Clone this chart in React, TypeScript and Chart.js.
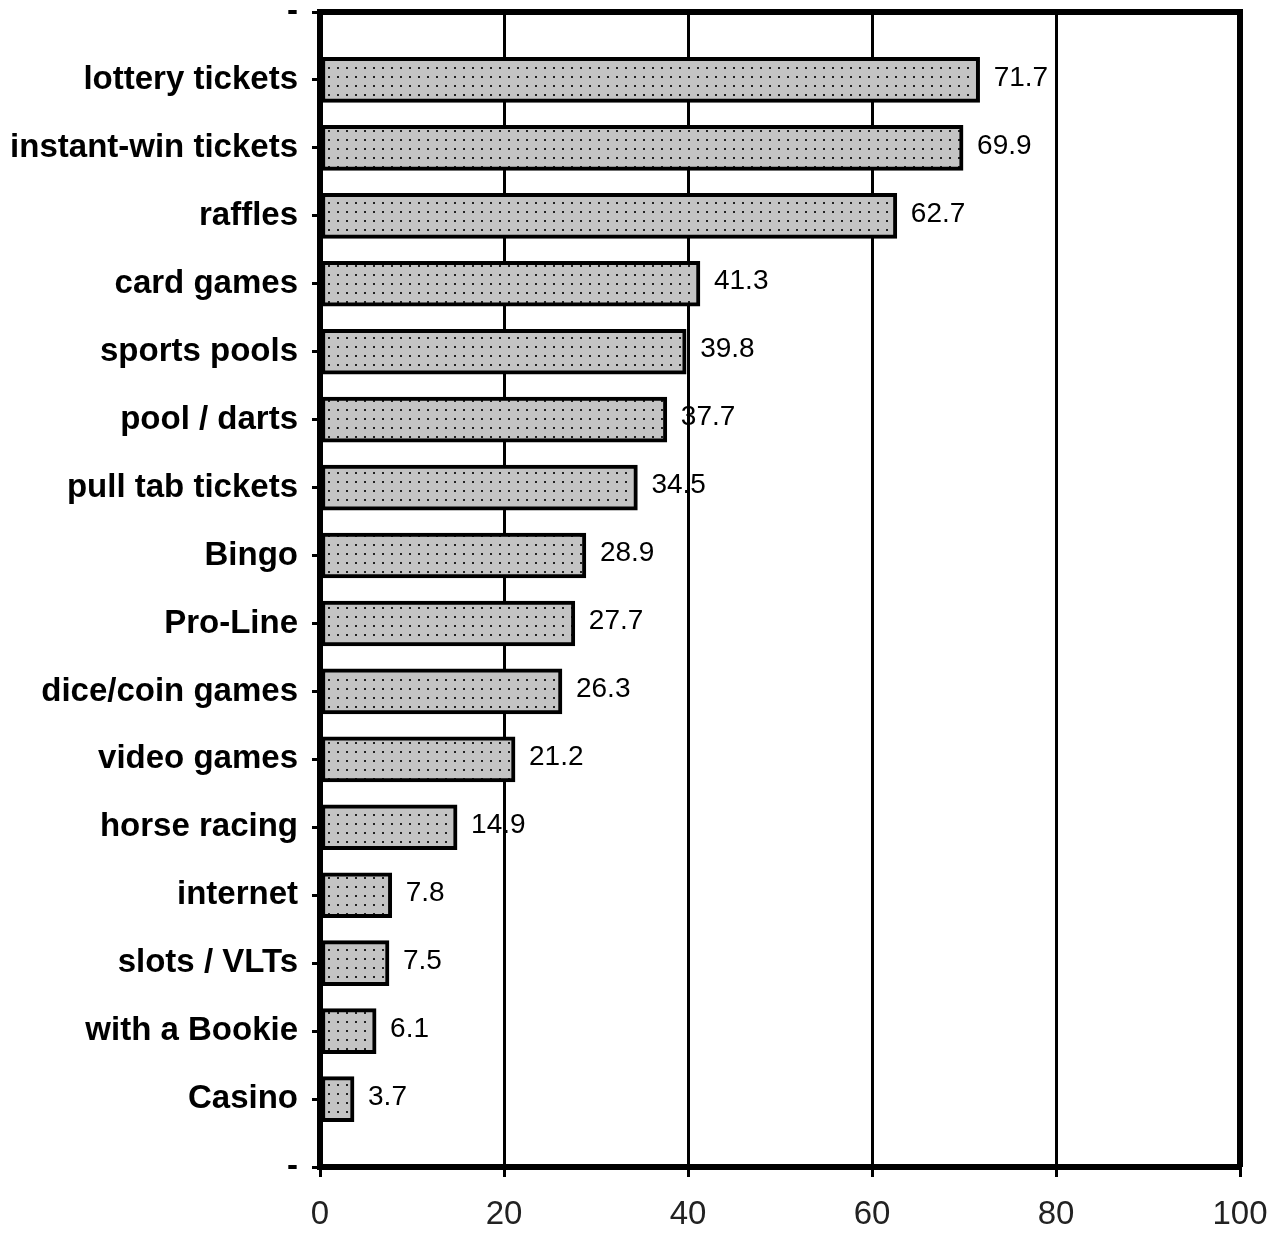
import React, { useEffect, useRef } from "react";
import { Chart, registerables } from "chart.js";

Chart.register(...registerables);

const categories = [
  "lottery tickets",
  "instant-win tickets",
  "raffles",
  "card games",
  "sports pools",
  "pool / darts",
  "pull tab tickets",
  "Bingo",
  "Pro-Line",
  "dice/coin games",
  "video games",
  "horse racing",
  "internet",
  "slots / VLTs",
  "with a Bookie",
  "Casino",
];

const values = [71.7, 69.9, 62.7, 41.3, 39.8, 37.7, 34.5, 28.9, 27.7, 26.3, 21.2, 14.9, 7.8, 7.5, 6.1, 3.7];

const xTicks = [0, 20, 40, 60, 80, 100];

function makePattern(): CanvasPattern | string {
  const c = document.createElement("canvas");
  c.width = 9;
  c.height = 9;
  const ctx = c.getContext("2d");
  if (!ctx) return "#c0c0c0";
  ctx.fillStyle = "#c4c4c4";
  ctx.fillRect(0, 0, 9, 9);
  ctx.fillStyle = "#222";
  ctx.fillRect(4, 4, 2, 2);
  return ctx.createPattern(c, "repeat") || "#c0c0c0";
}

const frame = {
  id: "frame",
  afterDraw(chart: any) {
    const { ctx, chartArea } = chart;
    ctx.save();
    ctx.strokeStyle = "#000";
    ctx.lineWidth = 6;
    ctx.beginPath();
    ctx.moveTo(chartArea.left, chartArea.top);
    ctx.lineTo(chartArea.right, chartArea.top);
    ctx.lineTo(chartArea.right, chartArea.bottom);
    ctx.stroke();
    ctx.restore();
  },
};

const valueLabels = {
  id: "valueLabels",
  afterDatasetsDraw(chart: any) {
    const { ctx } = chart;
    const meta = chart.getDatasetMeta(0);
    const data = chart.data.datasets[0].data;
    ctx.save();
    ctx.fillStyle = "#000";
    ctx.font = "28px 'Liberation Sans', Arial, sans-serif";
    ctx.textAlign = "left";
    ctx.textBaseline = "middle";
    meta.data.forEach((el: any, i: number) => {
      const v = data[i];
      if (v === null || v === undefined) return;
      ctx.fillText(String(v), el.x + 14, el.y - 2);
    });
    ctx.restore();
  },
};

export default function App() {
  const ref = useRef<HTMLCanvasElement>(null);
  useEffect(() => {
    document.body.style.margin = "0";
    if (!ref.current) return;
    const labels = ["-", ...categories, "-"];
    const data = [null, ...values, null];
    const chart = new Chart(ref.current, {
      type: "bar",
      data: {
        labels,
        datasets: [
          {
            data,
            backgroundColor: makePattern() as any,
            borderColor: "#000",
            borderWidth: 4,
            borderSkipped: false,
            barThickness: 45,
          },
        ],
      },
      options: {
        indexAxis: "y",
        animation: false,
        responsive: false,
        maintainAspectRatio: false,
        layout: { padding: { top: 12, right: 34, left: 0, bottom: 0 } },
        plugins: { legend: { display: false }, tooltip: { enabled: false } },
        scales: {
          x: {
            type: "linear",
            min: 0,
            max: 100,
            afterBuildTicks: (scale: any) => {
              scale.ticks = xTicks.map((v) => ({ value: v }));
            },
            afterFit: (scale: any) => {
              scale.height = 66;
              scale.paddingLeft = 0;
              scale.paddingRight = 0;
            },
            grid: {
              color: "#000",
              lineWidth: 3,
              drawTicks: true,
              tickLength: 10,
              tickWidth: 3,
              tickColor: "#000",
            },
            border: { display: true, width: 6, color: "#000" },
            ticks: {
              color: "#222",
              padding: 18,
              maxRotation: 0,
              font: { family: "'Liberation Sans', Arial, sans-serif", size: 33, weight: "normal" },
            },
          },
          y: {
            type: "category",
            offset: false,
            afterFit: (scale: any) => {
              scale.width = 320;
              scale.paddingTop = 0;
              scale.paddingBottom = 0;
            },
            grid: {
              offset: false,
              drawOnChartArea: false,
              drawTicks: true,
              tickLength: 8,
              tickWidth: 3,
              tickColor: "#000",
              color: "#000",
              lineWidth: 3,
            },
            border: { display: true, width: 6, color: "#000" },
            ticks: {
              color: "#000",
              padding: 14,
              autoSkip: false,
              font: { family: "'Liberation Sans', Arial, sans-serif", size: 33, weight: "bold" },
            },
          },
        },
      },
      plugins: [frame, valueLabels],
    });
    return () => chart.destroy();
  }, []);
  return (
    <div style={{ width: 1274, height: 1233 }}>
      <canvas ref={ref} width={1274} height={1233} style={{ display: "block", width: 1274, height: 1233 }} />
    </div>
  );
}
